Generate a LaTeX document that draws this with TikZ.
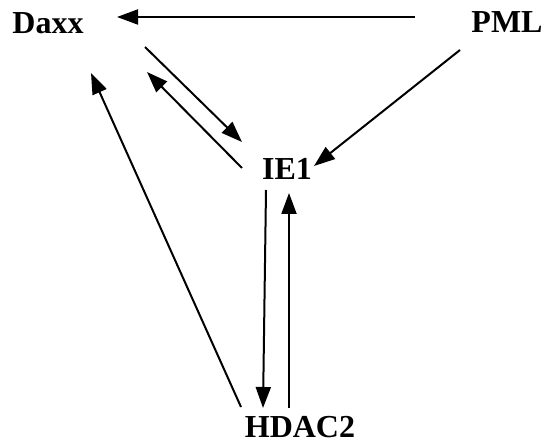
\documentclass[tikz,border=0pt]{standalone}
\usepackage{fontspec}
\setmainfont{Liberation Serif}
\usetikzlibrary{arrows.meta,calc}
\tikzset{
  lbl/.style={font=\fontsize{32}{32}\selectfont\bfseries, inner sep=0pt, anchor=center},
  arr/.style={line width=2pt, -{Triangle[length=21pt,width=15pt]}}
}
\begin{document}
\begin{tikzpicture}[x=1pt,y=-1pt]
\useasboundingbox (0,0) rectangle (549,446);
\node[lbl] (Daxx) at (48,23) {Daxx};
\node[lbl] (PML) at (507,22.5) {PML};
\node[lbl] (IE1) at (287,168.5) {IE1};
\node[lbl] (HDAC2) at (300,427) {HDAC2};
\draw[arr] ($(PML)+(-92,-5.5)$) -- ($(Daxx)+(69,-6)$);
\draw[arr] ($(PML)+(-47,27.5)$) -- ($(IE1)+(27,-2.5)$);
\draw[arr] ($(Daxx)+(97,24)$) -- ($(IE1)+(-45,-26.5)$);
\draw[arr] ($(IE1)+(-45,-0.5)$) -- ($(Daxx)+(99,49)$);
\draw[arr] ($(HDAC2)+(-59,-20)$) -- ($(Daxx)+(43,50)$);
\draw[arr] ($(IE1)+(-21,21.5)$) -- ($(HDAC2)+(-37,-19)$);
\draw[arr] ($(HDAC2)+(-11,-19)$) -- ($(IE1)+(2,24.5)$);
\end{tikzpicture}
\end{document}
